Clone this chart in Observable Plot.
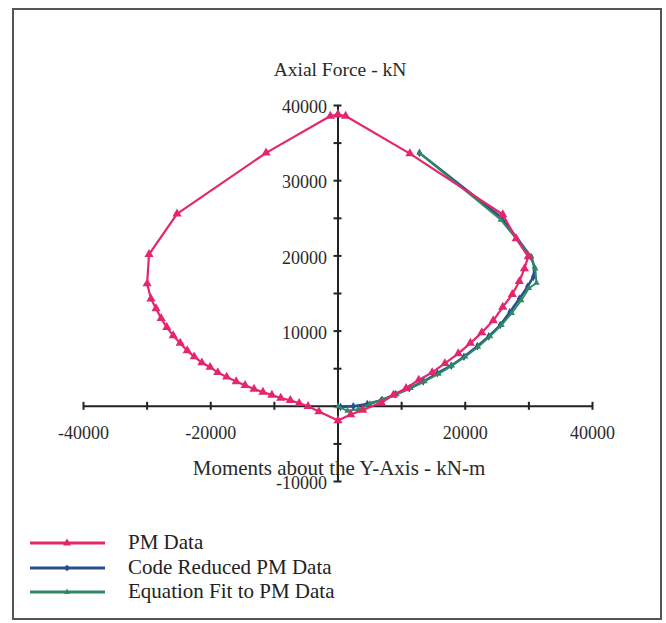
<!DOCTYPE html>
<html>
<head>
<meta charset="utf-8">
<script src="https://cdn.jsdelivr.net/npm/d3@7"></script>
<script src="https://cdn.jsdelivr.net/npm/@observablehq/plot@0.6"></script>
<style>
  html, body { margin: 0; padding: 0; background: #fff; }
  #wrap { position: relative; width: 666px; height: 623px; overflow: hidden; font-family: "Liberation Serif", serif; color: #222; }
  #chart { position: absolute; left: 0; top: 0; }
  #frame { position: absolute; left: 12px; top: 8px; width: 646px; height: 608px; border: 2px solid #555; pointer-events: none; }
  #legend { position: absolute; left: 0; top: 530px; }
  .row { position: absolute; left: 0; height: 24px; width: 400px; }
  .row svg { position: absolute; left: 28px; top: 0; }
  .row span { position: absolute; left: 128px; top: 0; font-size: 21px; line-height: 24px; white-space: nowrap; }
</style>
</head>
<body>
<div id="wrap">
  <div id="chart"></div>
  <div id="legend"></div>
  <div id="frame"></div>
</div>
<script>
// ---- Data ----
const seriesNames = ["PM Data", "Code Reduced PM Data", "Equation Fit to PM Data"];
const seriesColors = ["#e3266e", "#26508c", "#2f8a62"];

// PM Data: closed interaction loop (moment kN-m, axial kN)
const pmMoment = [0, -1200, -11300, -25300, -29700, -30000, -29400, -28600, -27800, -26900, -25900, -24800, -23700, -22600, -21400, -20100, -18900, -17500, -16000, -14600, -13200, -11800, -10400, -9000, -7500, -6100, -4700, -3000, 0, 2000, 3900, 6800, 8700, 10700, 12700, 14800, 16800, 18900, 20800, 22600, 24400, 25900, 27400, 28500, 29300, 29900, 28000, 25900, 11300, 1200, 0];
const pmAxial = [38800, 38600, 33700, 25600, 20200, 16300, 14300, 13000, 11700, 10500, 9400, 8400, 7400, 6600, 5800, 5200, 4500, 3900, 3300, 2800, 2300, 1900, 1500, 1100, 800, 400, 0, -700, -1900, -1100, -500, 500, 1500, 2400, 3500, 4500, 5700, 7000, 8400, 9800, 11400, 13200, 14900, 16600, 18300, 19900, 22300, 25500, 33600, 38600, 38800];

// Code Reduced PM Data (right side)
const codeMoment = [400, 2400, 4600, 6800, 9000, 11200, 13400, 15600, 17800, 19800, 21900, 23700, 25500, 27000, 28500, 29800, 30700, 30900, 30400, 25700, 12800];
const codeAxial = [-100, 0, 300, 800, 1600, 2400, 3300, 4400, 5400, 6600, 8000, 9300, 10800, 12500, 14300, 15900, 17200, 18400, 19800, 25100, 33700];

// Equation Fit to PM Data (right side)
const fitMoment = [0, 1500, 3200, 5000, 7000, 9200, 11400, 13600, 15800, 17900, 20000, 22000, 23900, 25700, 27300, 28800, 30000, 31200, 31000, 30300, 25600, 12800];
const fitAxial = [0, -600, -400, 300, 900, 1600, 2400, 3300, 4300, 5400, 6600, 7900, 9300, 10800, 12400, 14100, 15700, 16400, 18300, 19900, 24800, 33700];

// Axis ticks and labels
const xTickValues = [-40000, -30000, -20000, -10000, 0, 10000, 20000, 30000, 40000];
const xTickLabels = [-40000, -20000, 20000, 40000];
const yTickValues = [-10000, -5000, 0, 5000, 10000, 15000, 20000, 25000, 30000, 35000, 40000];
const yTickLabels = [40000, 30000, 20000, 10000, -10000];
const yAxisTitle = "Axial Force - kN";
const xAxisTitle = "Moments about the Y-Axis - kN-m";

// ---- Build tables ----
const pm = pmMoment.map((m, i) => ({m, p: pmAxial[i]}));
const code = codeMoment.map((m, i) => ({m, p: codeAxial[i]}));
const fit = fitMoment.map((m, i) => ({m, p: fitAxial[i]}));

const axisColor = "#222";

const chart = Plot.plot({
  width: 666,
  height: 540,
  marginLeft: 83,
  marginRight: 74,
  marginTop: 105,
  marginBottom: 59,
  x: {domain: [-40000, 40000], axis: null},
  y: {domain: [-10000, 40000], axis: null},
  style: {background: "transparent", fontFamily: "Liberation Serif, serif", color: axisColor, overflow: "visible"},
  marks: [
    // axes crossing at origin
    Plot.ruleY([0], {x1: -40000, x2: 40000, stroke: axisColor, strokeWidth: 2}),
    Plot.ruleX([0], {y1: -10000, y2: 40000, stroke: axisColor, strokeWidth: 2}),
    Plot.ruleX(xTickValues, {x: d => d, y1: 0, y2: 0, insetTop: -4, insetBottom: -4, stroke: axisColor, strokeWidth: 2}),
    Plot.ruleY(yTickValues, {y: d => d, x1: 0, x2: 0, insetLeft: -4, insetRight: -4, stroke: axisColor, strokeWidth: 2}),
    Plot.text(xTickLabels, {x: d => d, y: 0, dy: 27, text: d => String(d), fontSize: 18, fill: "#2a2a2a"}),
    Plot.text(yTickLabels, {x: 0, y: d => d, dx: -11, dy: 2, textAnchor: "end", text: d => String(d), fontSize: 18, fill: "#2a2a2a"}),
    Plot.text([yAxisTitle], {x: 0, y: 40000, dx: 2, dy: -36, text: d => d, fontSize: 19.5, fill: "#2a2a2a"}),
    Plot.text([xAxisTitle], {x: 0, y: 0, dx: 1, dy: 62, text: d => d, fontSize: 21, fill: "#2a2a2a"}),
    // series
    Plot.line(code, {x: "m", y: "p", stroke: seriesColors[1], strokeWidth: 2.5}),
    Plot.dot(code, {x: "m", y: "p", symbol: "diamond", r: 2.6, fill: seriesColors[1], stroke: "none"}),
    Plot.line(fit, {x: "m", y: "p", stroke: seriesColors[2], strokeWidth: 2}),
    Plot.dot(fit, {x: "m", y: "p", symbol: "triangle", r: 2.4, fill: seriesColors[2], stroke: "none"}),
    Plot.line(pm, {x: "m", y: "p", stroke: seriesColors[0], strokeWidth: 2.2}),
    Plot.dot(pm, {x: "m", y: "p", symbol: "triangle", r: 3.4, fill: seriesColors[0], stroke: "none"})
  ]
});
document.getElementById("chart").appendChild(chart);

// ---- Legend ----
const legend = document.getElementById("legend");
const markerPaths = [
  "M0,-4.5L4,2.5L-4,2.5Z",
  "M0,-3.2L3.2,0L0,3.2L-3.2,0Z",
  "M0,-3.5L3,2L-3,2Z"
];
seriesNames.forEach((name, i) => {
  const row = document.createElement("div");
  row.className = "row";
  row.style.top = (i * 24.5) + "px";
  row.innerHTML =
    `<svg width="80" height="24" viewBox="0 0 80 24">` +
    `<line x1="2" y1="13" x2="77" y2="13" stroke="${seriesColors[i]}" stroke-width="3"/>` +
    `<path transform="translate(39,13)" d="${markerPaths[i]}" fill="${seriesColors[i]}"/>` +
    `</svg><span>${name}</span>`;
  legend.appendChild(row);
});
</script>
</body>
</html>
